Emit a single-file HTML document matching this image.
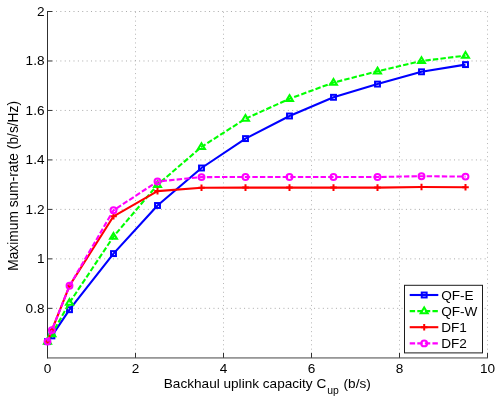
<!DOCTYPE html>
<html><head><meta charset="utf-8"><title>chart</title>
<style>html,body{margin:0;padding:0;background:#fff;width:499px;height:402px;overflow:hidden;font-family:"Liberation Sans",sans-serif}</style></head>
<body>
<svg width="499" height="402" viewBox="0 0 499 402" style="position:absolute;left:0;top:0;will-change:transform">
<rect width="499" height="402" fill="#fff"/>
<g stroke="#aaaaaa" stroke-width="1" stroke-dasharray="1 3.374" fill="none">
<line x1="135.50" y1="11.85" x2="135.50" y2="352.8" stroke-dasharray="1 3.374" stroke="#b6b6b6"/>
<line x1="223.50" y1="11.85" x2="223.50" y2="352.8" stroke-dasharray="1 3.374" stroke="#b6b6b6"/>
<line x1="311.50" y1="11.85" x2="311.50" y2="352.8" stroke-dasharray="1 3.374" stroke="#b6b6b6"/>
<line x1="399.50" y1="11.85" x2="399.50" y2="352.8" stroke-dasharray="1 3.374" stroke="#b6b6b6"/>
<line x1="487.50" y1="11.85" x2="487.50" y2="352.8" stroke-dasharray="1 3.374" stroke="#b6b6b6"/>
<line x1="56.0" y1="308.33" x2="488.0" y2="308.33"/>
<line x1="56.0" y1="258.86" x2="488.0" y2="258.86"/>
<line x1="56.0" y1="209.39" x2="488.0" y2="209.39"/>
<line x1="56.0" y1="159.91" x2="488.0" y2="159.91"/>
<line x1="56.0" y1="110.44" x2="488.0" y2="110.44"/>
<line x1="56.0" y1="60.97" x2="488.0" y2="60.97"/>
<line x1="56.0" y1="11.50" x2="488.0" y2="11.50"/>
</g>
<g stroke="#303030" stroke-width="1" fill="none">
<line x1="47.5" y1="11.0" x2="47.5" y2="358.3"/>
<line x1="47.0" y1="357.95" x2="488.0" y2="357.95" stroke="#464646"/>
<line x1="47.50" y1="357.8" x2="47.50" y2="352.8"/>
<line x1="135.50" y1="357.8" x2="135.50" y2="352.8"/>
<line x1="223.50" y1="357.8" x2="223.50" y2="352.8"/>
<line x1="311.50" y1="357.8" x2="311.50" y2="352.8"/>
<line x1="399.50" y1="357.8" x2="399.50" y2="352.8"/>
<line x1="487.50" y1="357.8" x2="487.50" y2="352.8"/>
<line x1="47.5" y1="308.33" x2="52.5" y2="308.33"/>
<line x1="47.5" y1="258.86" x2="52.5" y2="258.86"/>
<line x1="47.5" y1="209.39" x2="52.5" y2="209.39"/>
<line x1="47.5" y1="159.91" x2="52.5" y2="159.91"/>
<line x1="47.5" y1="110.44" x2="52.5" y2="110.44"/>
<line x1="47.5" y1="60.97" x2="52.5" y2="60.97"/>
<line x1="47.5" y1="11.50" x2="52.5" y2="11.50"/>
</g>
<g font-family="Liberation Sans, sans-serif" font-size="13.6px" fill="#000" style="opacity:0.999">
<text x="47.50" y="372.7" text-anchor="middle">0</text>
<text x="135.50" y="372.7" text-anchor="middle">2</text>
<text x="223.50" y="372.7" text-anchor="middle">4</text>
<text x="311.50" y="372.7" text-anchor="middle">6</text>
<text x="399.50" y="372.7" text-anchor="middle">8</text>
<text x="487.50" y="372.7" text-anchor="middle">10</text>
<text x="44.5" y="312.78" text-anchor="end">0.8</text>
<text x="44.5" y="263.31" text-anchor="end">1</text>
<text x="44.5" y="213.84" text-anchor="end">1.2</text>
<text x="44.5" y="164.36" text-anchor="end">1.4</text>
<text x="44.5" y="114.89" text-anchor="end">1.6</text>
<text x="44.5" y="65.42" text-anchor="end">1.8</text>
<text x="44.5" y="15.95" text-anchor="end">2</text>
<text x="163.8" y="388.4">Backhaul uplink capacity C</text><text x="327.3" y="393.7" font-size="10.4px">up</text><text x="343.6" y="388.4">(b/s)</text>
<text transform="translate(18.0,185.9) rotate(-90)" text-anchor="middle" font-size="13.78px">Maximum sum-rate (b/s/Hz)</text>
</g>
<polyline points="47.50,341.60 51.90,335.90 69.50,309.70 113.50,253.60 157.50,205.50 201.50,168.00 245.50,138.60 289.50,116.00 333.50,97.30 377.50,84.10 421.50,71.80 465.50,64.60" fill="none" stroke="#0000ff" stroke-width="2.1" stroke-linejoin="round"/>
<rect x="45.05" y="339.15" width="4.9" height="4.9" fill="none" stroke="#0000ff" stroke-width="2"/>
<rect x="49.45" y="333.45" width="4.9" height="4.9" fill="none" stroke="#0000ff" stroke-width="2"/>
<rect x="67.05" y="307.25" width="4.9" height="4.9" fill="none" stroke="#0000ff" stroke-width="2"/>
<rect x="111.05" y="251.15" width="4.9" height="4.9" fill="none" stroke="#0000ff" stroke-width="2"/>
<rect x="155.05" y="203.05" width="4.9" height="4.9" fill="none" stroke="#0000ff" stroke-width="2"/>
<rect x="199.05" y="165.55" width="4.9" height="4.9" fill="none" stroke="#0000ff" stroke-width="2"/>
<rect x="243.05" y="136.15" width="4.9" height="4.9" fill="none" stroke="#0000ff" stroke-width="2"/>
<rect x="287.05" y="113.55" width="4.9" height="4.9" fill="none" stroke="#0000ff" stroke-width="2"/>
<rect x="331.05" y="94.85" width="4.9" height="4.9" fill="none" stroke="#0000ff" stroke-width="2"/>
<rect x="375.05" y="81.65" width="4.9" height="4.9" fill="none" stroke="#0000ff" stroke-width="2"/>
<rect x="419.05" y="69.35" width="4.9" height="4.9" fill="none" stroke="#0000ff" stroke-width="2"/>
<rect x="463.05" y="62.15" width="4.9" height="4.9" fill="none" stroke="#0000ff" stroke-width="2"/>
<polyline points="47.50,341.60 51.90,334.10 69.50,302.70 113.50,236.60 157.50,184.80 201.50,146.90 245.50,118.70 289.50,98.80 333.50,82.60 377.50,71.30 421.50,61.00 465.50,55.60" fill="none" stroke="#00ff00" stroke-width="2.1" stroke-linejoin="round" stroke-dasharray="5.4 2.18" stroke-dashoffset="0.6"/>
<path d="M47.50,337.90 L51.00,343.70 L44.00,343.70 Z" fill="none" stroke="#00ff00" stroke-width="2" stroke-linejoin="miter"/>
<path d="M51.90,330.40 L55.40,336.20 L48.40,336.20 Z" fill="none" stroke="#00ff00" stroke-width="2" stroke-linejoin="miter"/>
<path d="M69.50,299.00 L73.00,304.80 L66.00,304.80 Z" fill="none" stroke="#00ff00" stroke-width="2" stroke-linejoin="miter"/>
<path d="M113.50,232.90 L117.00,238.70 L110.00,238.70 Z" fill="none" stroke="#00ff00" stroke-width="2" stroke-linejoin="miter"/>
<path d="M157.50,181.10 L161.00,186.90 L154.00,186.90 Z" fill="none" stroke="#00ff00" stroke-width="2" stroke-linejoin="miter"/>
<path d="M201.50,143.20 L205.00,149.00 L198.00,149.00 Z" fill="none" stroke="#00ff00" stroke-width="2" stroke-linejoin="miter"/>
<path d="M245.50,115.00 L249.00,120.80 L242.00,120.80 Z" fill="none" stroke="#00ff00" stroke-width="2" stroke-linejoin="miter"/>
<path d="M289.50,95.10 L293.00,100.90 L286.00,100.90 Z" fill="none" stroke="#00ff00" stroke-width="2" stroke-linejoin="miter"/>
<path d="M333.50,78.90 L337.00,84.70 L330.00,84.70 Z" fill="none" stroke="#00ff00" stroke-width="2" stroke-linejoin="miter"/>
<path d="M377.50,67.60 L381.00,73.40 L374.00,73.40 Z" fill="none" stroke="#00ff00" stroke-width="2" stroke-linejoin="miter"/>
<path d="M421.50,57.30 L425.00,63.10 L418.00,63.10 Z" fill="none" stroke="#00ff00" stroke-width="2" stroke-linejoin="miter"/>
<path d="M465.50,51.90 L469.00,57.70 L462.00,57.70 Z" fill="none" stroke="#00ff00" stroke-width="2" stroke-linejoin="miter"/>
<polyline points="47.50,341.60 51.90,330.10 69.50,285.80 113.50,216.30 157.50,191.10 201.50,187.70 245.50,187.60 289.50,187.60 333.50,187.60 377.50,187.60 421.50,187.00 465.50,187.20" fill="none" stroke="#ff0000" stroke-width="2.1" stroke-linejoin="round"/>
<path d="M44.20,341.60 H50.80 M47.50,338.30 V344.90" fill="none" stroke="#ff0000" stroke-width="2"/>
<path d="M48.60,330.10 H55.20 M51.90,326.80 V333.40" fill="none" stroke="#ff0000" stroke-width="2"/>
<path d="M66.20,285.80 H72.80 M69.50,282.50 V289.10" fill="none" stroke="#ff0000" stroke-width="2"/>
<path d="M110.20,216.30 H116.80 M113.50,213.00 V219.60" fill="none" stroke="#ff0000" stroke-width="2"/>
<path d="M154.20,191.10 H160.80 M157.50,187.80 V194.40" fill="none" stroke="#ff0000" stroke-width="2"/>
<path d="M198.20,187.70 H204.80 M201.50,184.40 V191.00" fill="none" stroke="#ff0000" stroke-width="2"/>
<path d="M242.20,187.60 H248.80 M245.50,184.30 V190.90" fill="none" stroke="#ff0000" stroke-width="2"/>
<path d="M286.20,187.60 H292.80 M289.50,184.30 V190.90" fill="none" stroke="#ff0000" stroke-width="2"/>
<path d="M330.20,187.60 H336.80 M333.50,184.30 V190.90" fill="none" stroke="#ff0000" stroke-width="2"/>
<path d="M374.20,187.60 H380.80 M377.50,184.30 V190.90" fill="none" stroke="#ff0000" stroke-width="2"/>
<path d="M418.20,187.00 H424.80 M421.50,183.70 V190.30" fill="none" stroke="#ff0000" stroke-width="2"/>
<path d="M462.20,187.20 H468.80 M465.50,183.90 V190.50" fill="none" stroke="#ff0000" stroke-width="2"/>
<polyline points="47.50,341.60 51.90,330.10 69.50,285.80 113.50,210.30 157.50,181.50 201.50,177.10 245.50,177.00 289.50,177.00 333.50,177.00 377.50,177.00 421.50,176.20 465.50,176.60" fill="none" stroke="#ff00ff" stroke-width="2.1" stroke-linejoin="round" stroke-dasharray="5.4 2.18" stroke-dashoffset="0.6"/>
<circle cx="47.50" cy="341.60" r="2.95" fill="none" stroke="#ff00ff" stroke-width="2"/>
<circle cx="51.90" cy="330.10" r="2.95" fill="none" stroke="#ff00ff" stroke-width="2"/>
<circle cx="69.50" cy="285.80" r="2.95" fill="none" stroke="#ff00ff" stroke-width="2"/>
<circle cx="113.50" cy="210.30" r="2.95" fill="none" stroke="#ff00ff" stroke-width="2"/>
<circle cx="157.50" cy="181.50" r="2.95" fill="none" stroke="#ff00ff" stroke-width="2"/>
<circle cx="201.50" cy="177.10" r="2.95" fill="none" stroke="#ff00ff" stroke-width="2"/>
<circle cx="245.50" cy="177.00" r="2.95" fill="none" stroke="#ff00ff" stroke-width="2"/>
<circle cx="289.50" cy="177.00" r="2.95" fill="none" stroke="#ff00ff" stroke-width="2"/>
<circle cx="333.50" cy="177.00" r="2.95" fill="none" stroke="#ff00ff" stroke-width="2"/>
<circle cx="377.50" cy="177.00" r="2.95" fill="none" stroke="#ff00ff" stroke-width="2"/>
<circle cx="421.50" cy="176.20" r="2.95" fill="none" stroke="#ff00ff" stroke-width="2"/>
<circle cx="465.50" cy="176.60" r="2.95" fill="none" stroke="#ff00ff" stroke-width="2"/>
<rect x="404.5" y="285.3" width="78" height="67.6" fill="#fff" stroke="#1c1c1c" stroke-width="1"/>
<line x1="409.7" y1="295.0" x2="438.3" y2="295.0" stroke="#0000ff" stroke-width="2.1"/>
<rect x="421.75" y="292.55" width="4.9" height="4.9" fill="none" stroke="#0000ff" stroke-width="2"/>
<text x="441.2" y="299.70" font-family="Liberation Sans, sans-serif" font-size="13.6px" fill="#000" style="opacity:0.999">QF-E</text>
<line x1="409.7" y1="311.1" x2="438.3" y2="311.1" stroke="#00ff00" stroke-width="2.1" stroke-dasharray="5.4 2.18"/>
<path d="M424.20,307.40 L427.70,313.20 L420.70,313.20 Z" fill="none" stroke="#00ff00" stroke-width="2" stroke-linejoin="miter"/>
<text x="441.2" y="315.80" font-family="Liberation Sans, sans-serif" font-size="13.6px" fill="#000" style="opacity:0.999">QF-W</text>
<line x1="409.7" y1="327.2" x2="438.3" y2="327.2" stroke="#ff0000" stroke-width="2.1"/>
<path d="M420.90,327.20 H427.50 M424.20,323.90 V330.50" fill="none" stroke="#ff0000" stroke-width="2"/>
<text x="441.2" y="331.90" font-family="Liberation Sans, sans-serif" font-size="13.6px" fill="#000" style="opacity:0.999">DF1</text>
<line x1="409.7" y1="343.4" x2="438.3" y2="343.4" stroke="#ff00ff" stroke-width="2.1" stroke-dasharray="5.4 2.18"/>
<circle cx="424.20" cy="343.40" r="2.95" fill="none" stroke="#ff00ff" stroke-width="2"/>
<text x="441.2" y="348.10" font-family="Liberation Sans, sans-serif" font-size="13.6px" fill="#000" style="opacity:0.999">DF2</text>
</svg>
</body></html>
